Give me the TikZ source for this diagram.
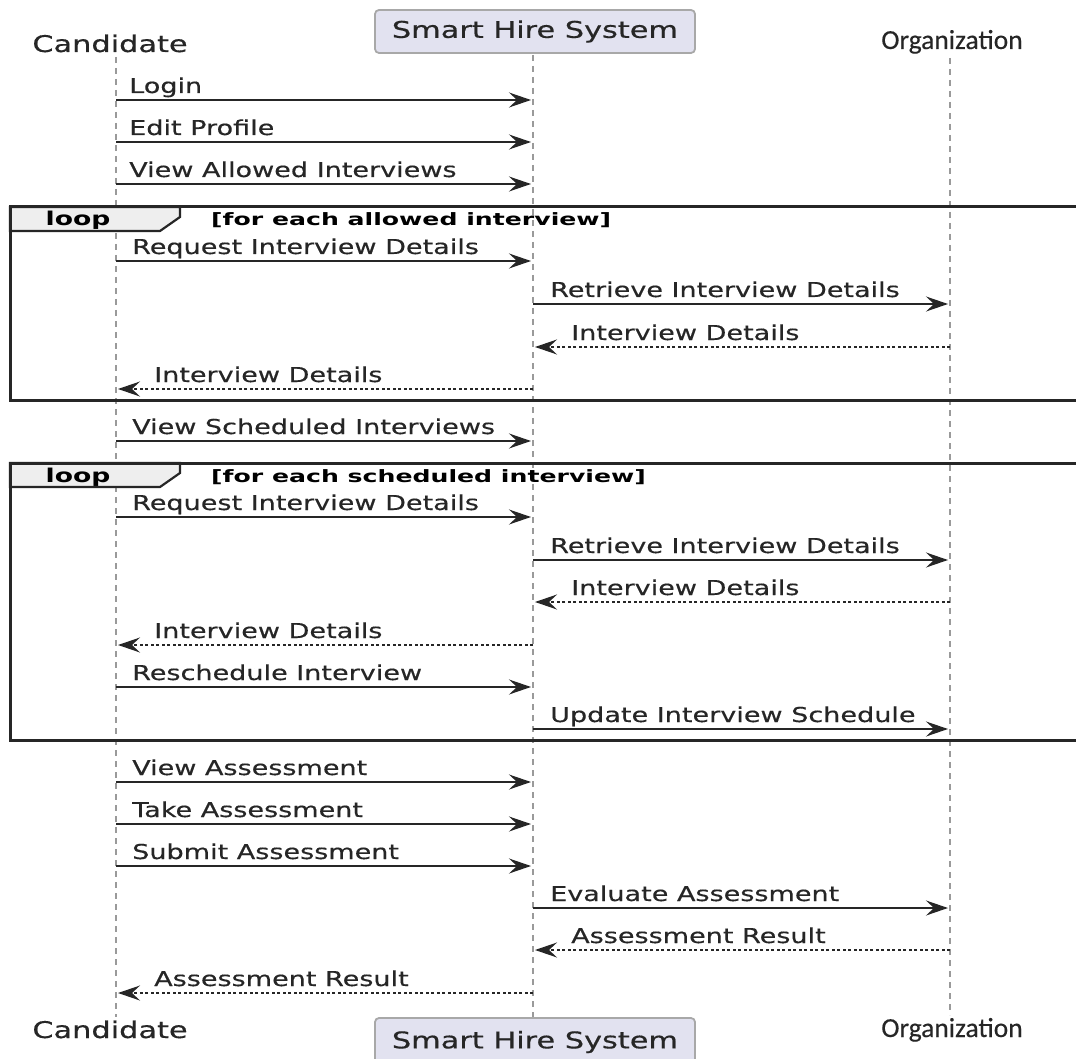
\documentclass[tikz,border=0pt]{standalone}
\usepackage{fontspec}
\setmainfont{DejaVu Sans}
\newfontfamily\msgf[FakeStretch=1.32,FakeBold=0.4]{DejaVu Sans}
\newfontfamily\loopf[FakeStretch=1.4]{DejaVu Sans}
\newfontfamily\condf[FakeStretch=1.48]{DejaVu Sans}
\newfontfamily\orgf[FakeBold=0.3]{Carlito}
\usetikzlibrary{arrows.meta}
\definecolor{lifeg}{HTML}{9A9A9A}
\definecolor{ink}{HTML}{262626}
\definecolor{partfill}{HTML}{E2E2F0}
\definecolor{partdraw}{HTML}{A8A8A8}
\definecolor{tabfill}{HTML}{EEEEEE}
\tikzset{
  life/.style={draw=lifeg, line width=1.6pt, dash pattern=on 6pt off 5pt},
  msg/.style={draw=ink, line width=1.8pt, -{Stealth[length=22pt,width=15pt,inset=8pt]}},
  ret/.style={msg, dash pattern=on 3pt off 2.5pt},
  lbl/.style={anchor=base west, inner sep=0pt, font=\msgf\fontsize{20.5}{24}\selectfont, text=ink},
  part/.style={draw=partdraw, fill=partfill, line width=1.8pt, rounded corners=4pt,
    minimum width=320pt, minimum height=43pt, inner sep=0pt, text=ink,
    font=\msgf\fontsize{23}{26}\selectfont},
  actor/.style={anchor=base, inner sep=0pt, text=ink, font=\msgf\fontsize{23}{26}\selectfont},
  orgl/.style={anchor=base, inner sep=0pt, text=ink, font=\orgf\fontsize{27.5}{30}\selectfont},
  frame/.style={draw=ink, line width=3pt},
  tab/.style={draw=ink, line width=2.2pt, fill=tabfill},
  looplbl/.style={anchor=base, inner sep=0pt, text=black, font=\loopf\bfseries\fontsize{19}{22}\selectfont},
  condlbl/.style={anchor=base west, inner sep=0pt, text=black, font=\condf\bfseries\fontsize{17}{20}\selectfont},
}
\begin{document}
\begin{tikzpicture}[x=1pt,y=-1pt]
\clip (0,0) rectangle (1076,1059);
\fill[white] (0,0) rectangle (1076,1059);

% lifelines
\coordinate (ct) at (116,57);  \coordinate (cb) at (116,1017);
\coordinate (st) at (533,55);  \coordinate (sb) at (533,1018);
\coordinate (ot) at (950,58);  \coordinate (ob) at (950,1015);
\draw[life] (ct) -- (cb);
\draw[life] (st) -- (sb);
\draw[life] (ot) -- (ob);

% participants
\node[actor] (candT) at (110,52) {Candidate};
\node[part] (sysT) at (535,31.5) {Smart Hire System};
\node[orgl] (orgT) at (952,49) {Organization};
\node[actor] (candB) at (110,1038) {Candidate};
\node[part, minimum height=48pt] (sysB) at (535,1042) {\raisebox{-4pt}{Smart Hire System}};
\node[orgl] (orgB) at (952,1037) {Organization};

% loop frames
\foreach \top/\bot/\cond/\n in {207/400/{[for each allowed interview]}/1, 463/740/{[for each scheduled interview]}/2}{
  \draw[tab] (10,\top) -- (180,\top) -- (180,\top+10) -- (160,\top+24) -- (10,\top+24) -- cycle;
  \draw[frame] (1080,\top) -- (10,\top) -- (10,\bot) -- (1080,\bot);
  \node[looplbl] (loop\n) at (78,\top+19) {loop};
  \node[condlbl] (cond\n) at (211,\top+19) {\cond};
}

% messages: y / from x / to x / label x / style / text
\foreach \i/\y/\fx/\tx/\lx/\st/\t in {
  1/100/116/531/129/msg/{Login},
  2/142/116/531/129/msg/{Edit Profile},
  3/184/116/531/129/msg/{View Allowed Interviews},
  4/261/116/531/132/msg/{Request Interview Details},
  5/304/533/948/550/msg/{Retrieve Interview Details},
  6/347/950/535/571/ret/{Interview Details},
  7/389/533/118/154/ret/{Interview Details},
  8/441/116/531/132/msg/{View Scheduled Interviews},
  9/517/116/531/132/msg/{Request Interview Details},
  10/560/533/948/550/msg/{Retrieve Interview Details},
  11/602/950/535/571/ret/{Interview Details},
  12/645/533/118/154/ret/{Interview Details},
  13/687/116/531/132/msg/{Reschedule Interview},
  14/729/533/948/550/msg/{Update Interview Schedule},
  15/782/116/531/132/msg/{View Assessment},
  16/824/116/531/132/msg/{Take Assessment},
  17/866/116/531/132/msg/{Submit Assessment},
  18/908/533/948/550/msg/{Evaluate Assessment},
  19/950/950/535/571/ret/{Assessment Result},
  20/993/533/118/154/ret/{Assessment Result}}{
  \coordinate (a\i) at (\fx,\y);
  \coordinate (b\i) at (\tx,\y);
  \draw[\st] (a\i) -- (b\i);
  \node[lbl] (l\i) at (\lx,\y-7) {\t};
}
\end{tikzpicture}
\end{document}
